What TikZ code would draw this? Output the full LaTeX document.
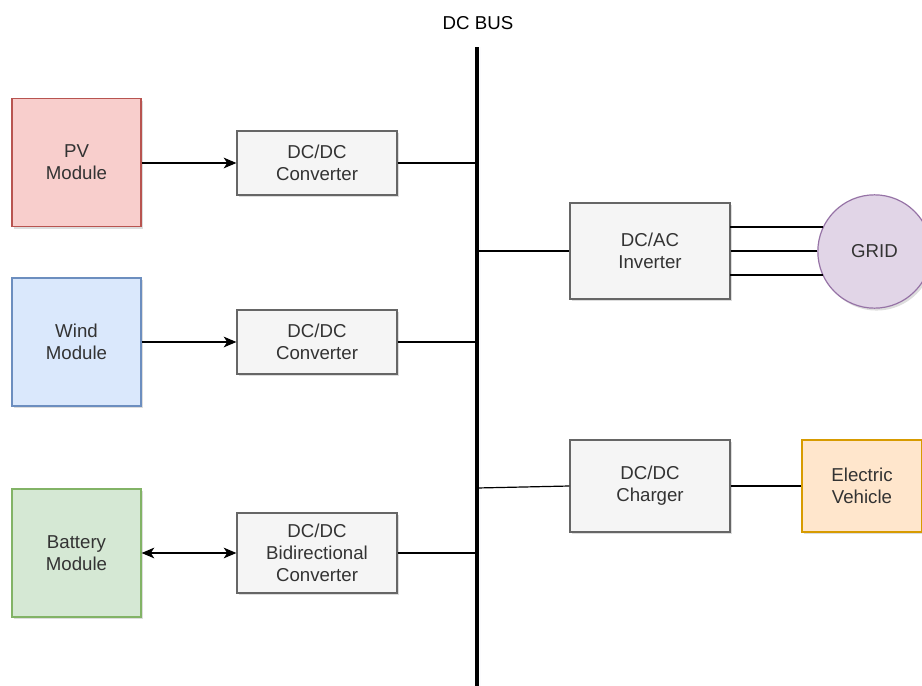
\documentclass[tikz,border=0pt]{standalone}
\usepackage{fontspec}
\setmainfont{Liberation Sans}
\usetikzlibrary{arrows.meta,shadows}
\definecolor{pvfill}{HTML}{F8CECC}\definecolor{pvdraw}{HTML}{B85450}
\definecolor{wdfill}{HTML}{DAE8FC}\definecolor{wddraw}{HTML}{6C8EBF}
\definecolor{btfill}{HTML}{D5E8D4}\definecolor{btdraw}{HTML}{82B366}
\definecolor{cvfill}{HTML}{F5F5F5}\definecolor{cvdraw}{HTML}{666666}
\definecolor{grfill}{HTML}{E1D5E7}\definecolor{grdraw}{HTML}{9673A6}
\definecolor{evfill}{HTML}{FFE6CC}\definecolor{evdraw}{HTML}{D79B00}
\definecolor{txt}{HTML}{333333}
\begin{document}
\begin{tikzpicture}[x=0.75pt,y=-0.75pt,
  shad/.style={drop shadow={opacity=0.22,shadow xshift=1.5pt,shadow yshift=-1.8pt,fill=black!60}},
  box/.style={draw, line width=0.9pt, shad, align=center, text=txt, font=\fontsize{14}{16.5}\selectfont, inner sep=0pt},
  module/.style={box, minimum width=96.75pt, minimum height=96pt},
  conv/.style={box, fill=cvfill, draw=cvdraw, minimum width=120pt},
  link/.style={line width=0.9pt, black},
  arr/.style={link, -{Stealth[length=9.5pt,width=8pt,inset=2.6pt]}},
  biarr/.style={link, {Stealth[length=9.5pt,width=8pt,inset=2.6pt]}-{Stealth[length=9.5pt,width=8pt,inset=2.6pt]}}
]
\useasboundingbox (0,0) rectangle (922,686);
% DC bus
\coordinate (bustop) at (477,47);
\coordinate (busbot) at (477,690);
\draw[line width=3.2pt, black, drop shadow={opacity=0.18,shadow xshift=2.5pt,shadow yshift=0pt,fill=blue!40!black!60}] (bustop) -- (busbot);
\node[text=black, font=\fontsize{14}{16}\selectfont] (buslabel) at (478,23) {DC BUS};
% modules
\node[module, fill=pvfill, draw=pvdraw] (pv) at (76.5,162.5) {PV\\Module};
\node[module, fill=wdfill, draw=wddraw] (wind) at (76.5,342) {Wind\\Module};
\node[module, fill=btfill, draw=btdraw] (bat) at (76.5,553) {Battery\\Module};
% converters
\node[conv, minimum height=48pt] (c1) at (317,163) {DC/DC\\Converter};
\node[conv, minimum height=48pt] (c2) at (317,342) {DC/DC\\Converter};
\node[conv, minimum height=60pt] (c3) at (317,553) {DC/DC\\Bidirectional\\Converter};
\node[conv, minimum height=72pt] (inv) at (650,251) {DC/AC\\Inverter};
\node[conv, minimum height=69pt] (chg) at (650,486) {DC/DC\\Charger};
\node[box, fill=grfill, draw=grdraw, circle, minimum size=85pt] (grid) at (874.5,251.5) {GRID};
\node[box, fill=evfill, draw=evdraw, minimum width=90pt, minimum height=69pt] (ev) at (862,486) {Electric\\Vehicle};
% bus taps
\coordinate (b1) at (477,163);
\coordinate (b2) at (477,342);
\coordinate (b3) at (477,553);
\coordinate (b4) at (477,251);
\coordinate (b5) at (477,488);
% inverter phase outputs
\coordinate (i1) at (730,227);
\coordinate (i3) at (730,275);
\coordinate (g1) at (i1 -| grid.155);
\coordinate (g3) at (i3 -| grid.205);
% connectors
\draw[arr] (pv.east |- c1.west) -- (c1.west);
\draw[arr] (wind.east |- c2.west) -- (c2.west);
\draw[biarr] (bat.east |- c3.west) -- (c3.west);
\draw[link] (c1.east) -- (b1);
\draw[link] (c2.east) -- (b2);
\draw[link] (c3.east) -- (b3);
\draw[link] (b4) -- (inv.west);
\draw[link] (b5) -- (chg.west);
\draw[link] (i1) -- (g1);
\draw[link] (inv.east) -- (grid.west |- inv.east);
\draw[link] (i3) -- (g3);
\draw[link] (chg.east) -- (ev.west);
\end{tikzpicture}
\end{document}
